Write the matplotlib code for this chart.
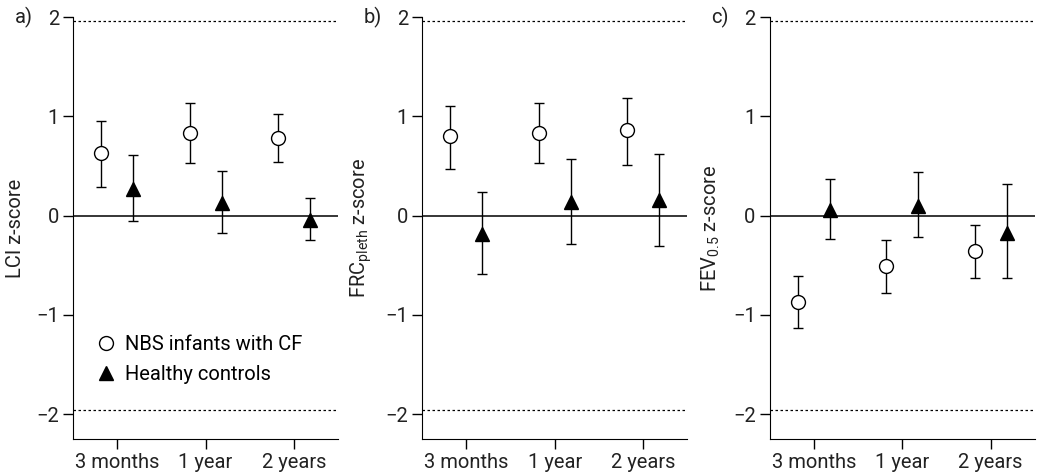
import matplotlib.pyplot as plt
from matplotlib.lines import Line2D
import numpy as np

plt.rcParams['font.family'] = ['Roboto', 'DejaVu Sans']
plt.rcParams['mathtext.default'] = 'regular'

# time points
timepoints = ["3 months", "1 year", "2 years"]

# panel a) LCI z-score
lci_cf = [0.63, 0.83, 0.78]
lci_cf_lo = [0.29, 0.53, 0.54]
lci_cf_hi = [0.95, 1.14, 1.02]
lci_hc = [0.27, 0.13, -0.04]
lci_hc_lo = [-0.05, -0.17, -0.25]
lci_hc_hi = [0.61, 0.45, 0.18]

# panel b) FRCpleth z-score
frc_cf = [0.80, 0.83, 0.86]
frc_cf_lo = [0.47, 0.53, 0.51]
frc_cf_hi = [1.11, 1.14, 1.19]
frc_hc = [-0.18, 0.14, 0.16]
frc_hc_lo = [-0.59, -0.29, -0.31]
frc_hc_hi = [0.24, 0.57, 0.62]

# panel c) FEV0.5 z-score
fev_cf = [-0.87, -0.51, -0.36]
fev_cf_lo = [-1.13, -0.78, -0.63]
fev_cf_hi = [-0.61, -0.245, -0.09]
fev_hc = [0.06, 0.10, -0.17]
fev_hc_lo = [-0.235, -0.21, -0.63]
fev_hc_hi = [0.37, 0.44, 0.32]

panels = [
    ("a)", "LCI z-score", lci_cf, lci_cf_lo, lci_cf_hi, lci_hc, lci_hc_lo, lci_hc_hi),
    ("b)", "FRC$_{pleth}$ z-score", frc_cf, frc_cf_lo, frc_cf_hi, frc_hc, frc_hc_lo, frc_hc_hi),
    ("c)", "FEV$_{0.5}$ z-score", fev_cf, fev_cf_lo, fev_cf_hi, fev_hc, fev_hc_lo, fev_hc_hi),
]

fig = plt.figure(figsize=(10.4, 4.74), dpi=100)
lefts = [0.0702, 0.4058, 0.740]
x = np.arange(len(timepoints))
offset = 0.18
txt = "#222222"
fs = 14.5

for left, (tag, ylab, cf, cf_lo, cf_hi, hc, hc_lo, hc_hi) in zip(lefts, panels):
    ax = fig.add_axes([left, 0.0738, 0.255, 0.890])
    cf = np.array(cf)
    hc = np.array(hc)
    cf_err = [cf - np.array(cf_lo), np.array(cf_hi) - cf]
    hc_err = [hc - np.array(hc_lo), np.array(hc_hi) - hc]

    # reference lines
    ax.axhline(0, color="black", linewidth=1.1, zorder=1)
    ax.axhline(1.96, color="black", linewidth=0.9, linestyle=(0, (2, 2)), zorder=1)
    ax.axhline(-1.96, color="black", linewidth=0.9, linestyle=(0, (2, 2)), zorder=1)

    ax.errorbar(x - offset, cf, yerr=cf_err, fmt="o", ms=10, mfc="white",
                mec="black", mew=1.0, ecolor="black", elinewidth=1.0,
                capsize=3.5, capthick=1.0, zorder=3)
    ax.errorbar(x + offset, hc, yerr=hc_err, fmt="^", ms=10, mfc="black",
                mec="black", ecolor="black", elinewidth=1.0,
                capsize=3.5, capthick=1.0, zorder=3)

    ax.set_xlim(-0.5, 2.5)
    ax.set_ylim(-2.25, 2.0)
    ax.set_xticks(x)
    ax.set_xticklabels(timepoints)
    ax.set_yticks([-2, -1, 0, 1, 2])
    ax.set_yticklabels(["\u22122", "\u22121", "0", "1", "2"])
    ax.spines["top"].set_visible(False)
    ax.spines["right"].set_visible(False)
    ax.tick_params(direction="out", length=7, width=1.0, colors="black",
                   labelcolor=txt, labelsize=fs, pad=3)
    ax.set_ylabel(ylab, fontsize=fs, color=txt, labelpad=8)
    ax.text(-0.22, 1.0, tag, transform=ax.transAxes, fontsize=fs,
            color=txt, ha="left", va="center")

    if tag == "a)":
        handles = [
            Line2D([], [], linestyle="none", marker="o", ms=10, mfc="white",
                   mec="black", mew=1.0),
            Line2D([], [], linestyle="none", marker="^", ms=10, mfc="black",
                   mec="black"),
        ]
        ax.legend(handles, ["NBS infants with CF", "Healthy controls"],
                  loc="upper left", bbox_to_anchor=(0.05, 0.265), frameon=False,
                  fontsize=fs, handletextpad=0.3, labelspacing=0.55,
                  handlelength=1.2, borderaxespad=0)

plt.savefig("out.png", dpi=100)
